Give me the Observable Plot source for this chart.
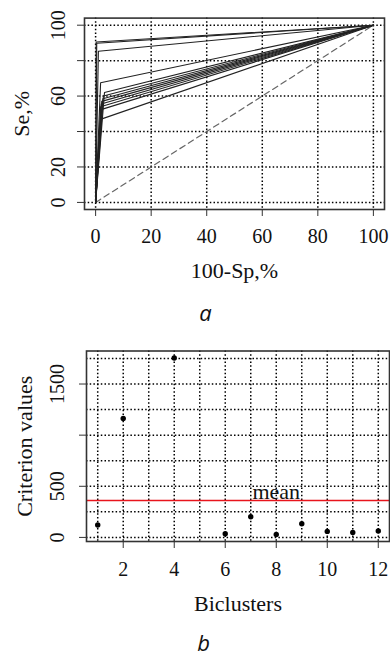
<!DOCTYPE html>
<html>
<head>
<meta charset="utf-8">
<script src="https://cdn.jsdelivr.net/npm/d3@7"></script>
<script src="https://cdn.jsdelivr.net/npm/@observablehq/plot@0.6"></script>
<style>
  html, body { margin: 0; padding: 0; background: #fff; }
  #page { position: relative; width: 390px; height: 655px; overflow: hidden; }
  #page svg { position: absolute; left: 0; overflow: visible; }
</style>
</head>
<body>
<div id="page"></div>
<script>
// ---- Panel a: ROC curves (one knee point per model) ----
const rocFpr = [0.2, 0.4, 1.0, 1.8, 3.2, 2.8, 2.6, 2.2, 2.0, 1.8, 2.2, 2.0];
const rocTpr = [90.5, 89.8, 85.3, 67.5, 62.0, 60.0, 58.5, 57.0, 55.5, 54.0, 52.5, 47.0];
const rocTicks = [0, 20, 40, 60, 80, 100];
const rocYLabels = [0, 20, 60, 100];

// ---- Panel b: criterion value per bicluster ----
const biclusters = [1, 2, 4, 6, 7, 8, 9, 10, 11, 12];
const criterion = [121, 1163, 1754, 36, 202, 29, 134, 59, 49, 62];
const biclusterTicks = [2, 4, 6, 8, 10, 12];
const biclusterGrid = d3.range(1, 13);
const criterionTicks = [0, 500, 1000, 1500];
const criterionLabels = [0, 500, 1500];
const criterionGrid = d3.range(0, 1751, 250);

const serif = "'Liberation Serif', 'Times New Roman', serif";
const gridStyle = {stroke: "#000", strokeOpacity: 1, strokeWidth: 1.5, strokeDasharray: "1.5,2.2"};

// R-style 4% padding of an extent
const pad = ([a, b]) => [a - 0.04 * (b - a), b + 0.04 * (b - a)];

// ROC path rows: origin -> knee -> (100,100)
const rocRows = rocFpr.flatMap((f, i) => [
  {id: i, fpr: 0, tpr: 0},
  {id: i, fpr: f, tpr: rocTpr[i]},
  {id: i, fpr: 100, tpr: 100}
]);

const plotA = Plot.plot({
  width: 390, height: 330,
  marginLeft: 84, marginRight: 6, marginTop: 17.6, marginBottom: 121,
  style: {fontFamily: serif, fontSize: "20px", color: "#111", background: "transparent"},
  x: {domain: pad([0, 100]), axis: null},
  y: {domain: pad([0, 100]), axis: null},
  marks: [
    Plot.gridX(rocTicks, gridStyle),
    Plot.gridY(rocTicks, gridStyle),
    Plot.line([{fpr: 0, tpr: 0}, {fpr: 100, tpr: 100}], {x: "fpr", y: "tpr", stroke: "#666", strokeWidth: 1.2, strokeDasharray: "6,4"}),
    Plot.line(rocRows, {x: "fpr", y: "tpr", z: "id", stroke: "#222", strokeWidth: 1.1}),
    Plot.frame({stroke: "#333", strokeWidth: 1.6}),
    Plot.axisX(rocTicks, {tickSize: 7, tickPadding: 12, fontSize: 20, label: null, stroke: "#333"}),
    Plot.axisY(rocTicks, {tickSize: 7, tickFormat: () => "", label: null, stroke: "#333"}),
    Plot.text(rocYLabels, {y: d => d, text: d => String(d), frameAnchor: "left", rotate: -90, textAnchor: "middle", lineAnchor: "bottom", dx: -20, fontSize: 20}),
    Plot.text(["Se,%"], {frameAnchor: "left", rotate: -90, textAnchor: "middle", lineAnchor: "bottom", dx: -56, fontSize: 22}),
    Plot.text(["100-Sp,%"], {frameAnchor: "bottom", lineAnchor: "bottom", dy: 68, fontSize: 22}),
    Plot.text(["a"], {frameAnchor: "bottom", lineAnchor: "bottom", dx: -29, dy: 111, fontSize: 22, fontStyle: "italic", fontFamily: "'Open Sans', sans-serif"})
  ]
});
plotA.style.top = "0px";
document.getElementById("page").appendChild(plotA);

// ---- Panel b ----
const meanValue = d3.mean(criterion);
const pointRows = biclusters.map((b, i) => ({bicluster: b, value: criterion[i]}));

const plotB = Plot.plot({
  width: 390, height: 325,
  marginLeft: 86, marginRight: 1, marginTop: 20.5, marginBottom: 114,
  style: {fontFamily: serif, fontSize: "20px", color: "#111", background: "transparent"},
  x: {domain: pad(d3.extent(biclusters)), axis: null},
  y: {domain: pad(d3.extent(criterion)), axis: null},
  marks: [
    Plot.gridX(biclusterGrid, gridStyle),
    Plot.gridY(criterionGrid, gridStyle),
    Plot.ruleY([meanValue], {stroke: "#e8141c", strokeWidth: 1.4}),
    Plot.text(["mean"], {x: 8, y: meanValue, lineAnchor: "bottom", dy: -2, fontSize: 22}),
    Plot.dot(pointRows, {x: "bicluster", y: "value", r: 2.7, fill: "#000", stroke: "none"}),
    Plot.frame({stroke: "#333", strokeWidth: 1.6}),
    Plot.axisX(biclusterTicks, {tickSize: 7, tickPadding: 13, fontSize: 20, label: null, stroke: "#333"}),
    Plot.axisY(criterionTicks, {tickSize: 7, tickFormat: () => "", label: null, stroke: "#333"}),
    Plot.text(criterionLabels, {y: d => d, text: d => String(d), frameAnchor: "left", rotate: -90, textAnchor: "middle", lineAnchor: "bottom", dx: -22.5, fontSize: 20}),
    Plot.text(["Criterion values"], {frameAnchor: "left", rotate: -90, textAnchor: "middle", lineAnchor: "bottom", dx: -55, fontSize: 22}),
    Plot.text(["Biclusters"], {frameAnchor: "bottom", lineAnchor: "bottom", dy: 69, fontSize: 22}),
    Plot.text(["b"], {frameAnchor: "bottom", lineAnchor: "bottom", dx: -34.5, dy: 109, fontSize: 22, fontStyle: "italic", fontFamily: "'Open Sans', sans-serif"})
  ]
});
plotB.style.top = "330px";
document.getElementById("page").appendChild(plotB);
</script>
</body>
</html>
